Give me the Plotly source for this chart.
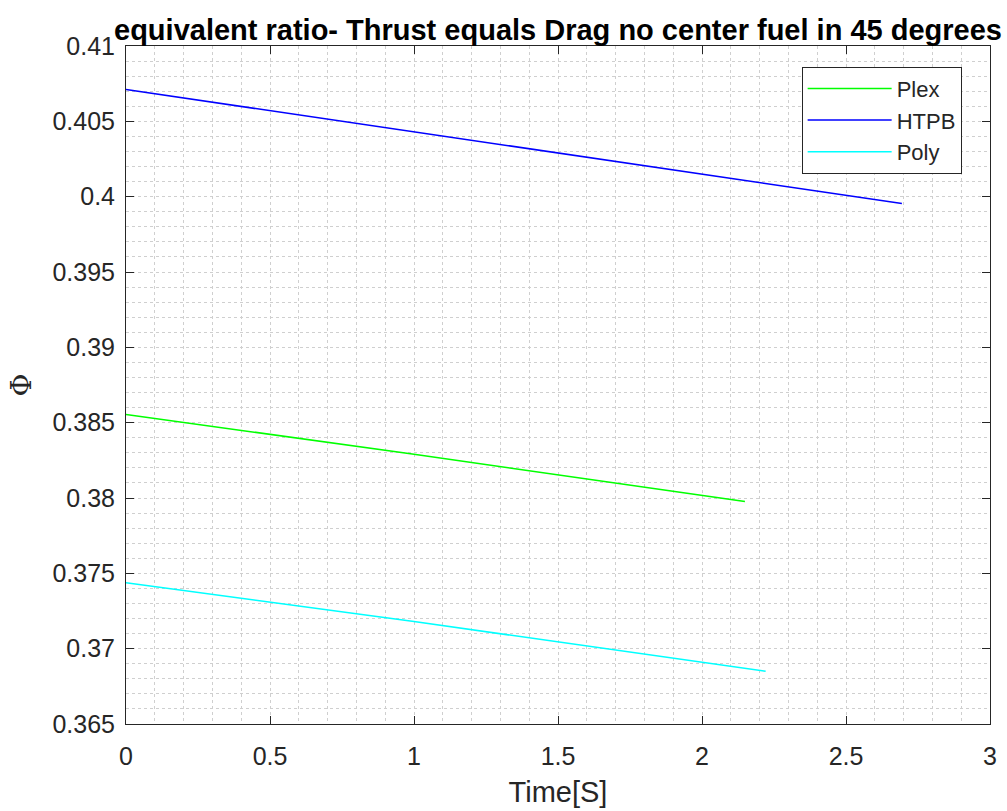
import plotly.graph_objects as go

# Data
plex_t = [0.0, 1.0, 2.149]
plex_phi = [0.38555, 0.38290, 0.37977]
htpb_t = [0.0, 1.5, 2.694]
htpb_phi = [0.40711, 0.40290, 0.39955]
poly_t = [0.0, 1.0, 2.221]
poly_phi = [0.37438, 0.37180, 0.36850]

series = [
    ("Plex", plex_t, plex_phi, "#00ff00"),
    ("HTPB", htpb_t, htpb_phi, "#0000ff"),
    ("Poly", poly_t, poly_phi, "#00ffff"),
]

x_ticks = [0, 0.5, 1, 1.5, 2, 2.5, 3]
x_ticklabels = ["0", "0.5", "1", "1.5", "2", "2.5", "3"]
y_ticks = [0.365, 0.37, 0.375, 0.38, 0.385, 0.39, 0.395, 0.4, 0.405, 0.41]
y_ticklabels = ["0.365", "0.37", "0.375", "0.38", "0.385", "0.39", "0.395", "0.4", "0.405", "0.41"]

fig = go.Figure()
for name, t, phi, color in series:
    fig.add_trace(go.Scatter(x=t, y=phi, mode="lines", name=name,
                             line=dict(color=color, width=1.5)))

axis_color = "#262626"
grid_color = "#cfcfcf"
font_family = "Liberation Sans, Arial, Helvetica, sans-serif"

fig.update_layout(
    width=1007, height=811,
    margin=dict(l=126, r=17, t=46, b=87),
    paper_bgcolor="white", plot_bgcolor="white",
    font=dict(family=font_family, color=axis_color, size=25),
    title=dict(text="<b>equivalent ratio- Thrust equals Drag no center fuel in 45 degrees</b>",
               x=(126 + 990) / 2 / 1007, xanchor="center", y=1 - 30 / 811, yanchor="middle",
               font=dict(size=29, color="black", family=font_family)),
    showlegend=True,
    legend=dict(x=0.782, y=0.9695, xanchor="left", yanchor="top",
                bgcolor="white", bordercolor=axis_color, borderwidth=1,
                font=dict(size=22, color=axis_color, family=font_family),
                itemwidth=84, tracegroupgap=0),
)

fig.update_xaxes(
    range=[0, 3], tickvals=x_ticks, ticktext=x_ticklabels,
    showline=True, linecolor=axis_color, linewidth=1, mirror="ticks",
    ticks="inside", ticklen=8, tickcolor=axis_color, tickwidth=1,
    showgrid=True, gridcolor=grid_color, griddash="dot", gridwidth=1,
    minor=dict(dtick=0.1, showgrid=True, gridcolor=grid_color, griddash="dot", gridwidth=1, ticks=""),
    zeroline=False, automargin=False, ticklabelstandoff=10,
    tickfont=dict(size=25, color=axis_color),
    title=dict(text="Time[S]", font=dict(size=29, color=axis_color), standoff=12),
)
fig.update_yaxes(
    range=[0.365, 0.41], tickvals=y_ticks, ticktext=y_ticklabels,
    showline=True, linecolor=axis_color, linewidth=1, mirror="ticks",
    ticks="inside", ticklen=8, tickcolor=axis_color, tickwidth=1,
    showgrid=True, gridcolor=grid_color, griddash="dot", gridwidth=1,
    minor=dict(dtick=0.001, tick0=0.365, showgrid=True, gridcolor=grid_color, griddash="dot", gridwidth=1, ticks=""),
    zeroline=False, automargin=False, ticklabelstandoff=5,
    tickfont=dict(size=25, color=axis_color),
    title=dict(text="Φ", font=dict(size=28, color=axis_color, family="DejaVu Serif, serif"), standoff=12),
)

fig.write_html("out.html")
